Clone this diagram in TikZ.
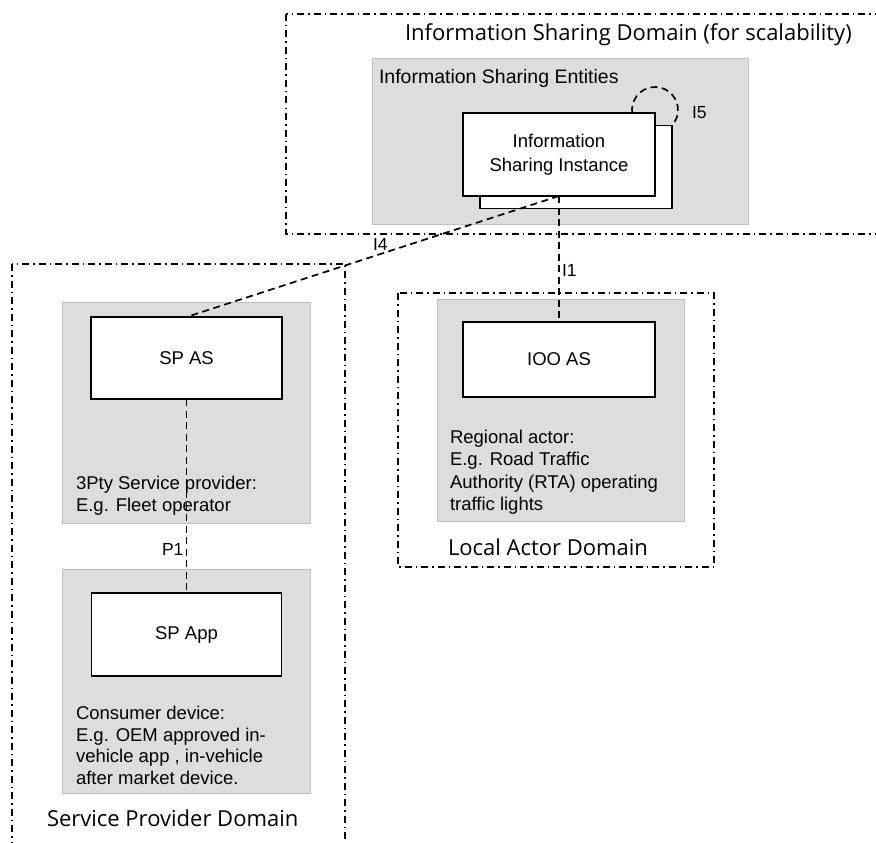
\documentclass[tikz,border=0pt]{standalone}
\usepackage{fontspec}
\setmainfont{Liberation Sans}
\newfontfamily\domainfont{Open Sans}
\definecolor{zonefill}{RGB}{221,221,221}
\definecolor{zoneedge}{RGB}{192,192,192}
\begin{document}
\begin{tikzpicture}[x=1pt,y=-1pt,
  every node/.style={inner sep=0pt, outer sep=0pt},
  domainframe/.style={line width=1.6pt, dash pattern=on 7pt off 4pt on 1.5pt off 4pt},
  zone/.style={fill=zonefill, draw=zoneedge, line width=0.8pt},
  entity/.style={draw=black, fill=white, line width=1.9pt, align=center,
    font=\fontsize{18.5}{24}\selectfont},
  link/.style={line width=1.7pt, dash pattern=on 7pt off 4.5pt},
  domlabel/.style={font=\domainfont\fontsize{22}{26}\selectfont},
  note/.style={align=left, anchor=north west, font=\fontsize{18.5}{22.3}\selectfont},
  iflabel/.style={anchor=base west, font=\fontsize{17.5}{20}\selectfont}
]
\useasboundingbox (0,0) rectangle (876,843);
\clip (0,0) rectangle (876,843);
\fill[white] (0,0) rectangle (876,843);

% domain frames
\draw[domainframe] (286,14) rectangle (900,234);
\draw[domainframe] (12,264) rectangle (345,880);
\draw[domainframe] (398,293) rectangle (714,567);

% shaded entity zones
\draw[zone] (372,58) rectangle (748,224);
\draw[zone] (62,302) rectangle (310,523);
\draw[zone] (62,569) rectangle (310,793);
\draw[zone] (437,299) rectangle (684,521);

% domain and zone titles
\node[domlabel, anchor=base west] (isdtitle) at (405,41) {Information Sharing Domain (for scalability)};
\node[anchor=base west, font=\fontsize{19.5}{22}\selectfont] (iseTitle) at (379,84) {Information Sharing Entities};
\node[domlabel, anchor=base west] (spdTitle) at (47,826) {Service Provider Domain};
\node[domlabel, anchor=base west] (ladTitle) at (448,555) {Local Actor Domain};

% self loop of the sharing instances (I5), partly hidden by the stacked boxes
\coordinate (loopstart) at (632.2,113);
\draw[link] (loopstart) arc[start angle=172.5, end angle=405, radius=23];

% stacked information sharing instances
\node[entity, minimum width=192pt, minimum height=83pt] (instback) at (576,167) {};
\node[entity, minimum width=192pt, minimum height=83pt] (inst) at (559,154.5)
  {Information\\Sharing Instance};

% application servers and app
\node[entity, minimum width=191pt, minimum height=82pt] (spas) at (186.5,358) {SP AS};
\node[entity, minimum width=190pt, minimum height=83pt] (spapp) at (186.5,634.5) {SP App};
\node[entity, minimum width=192pt, minimum height=75pt] (iooas) at (559,359.5) {IOO AS};

% descriptions
\node[note] (spnote) at (76,476) {3Pty Service provider:\\E.g. Fleet operator};
\node[note, font=\fontsize{18.5}{21.7}\selectfont] (appnote) at (76,706)
  {Consumer device:\\E.g. OEM approved in-\\vehicle app , in-vehicle\\after market device.};
\node[note] (iconote) at (450,430) {Regional actor:\\E.g. Road Traffic\\Authority (RTA) operating\\traffic lights};

% reference points
\draw[link] (inst.south) -- (spas.north);
\draw[link] (inst.south) -- (iooas.north);
\draw[link] (spas.south) -- (spapp.north);

\node[iflabel] (lblI5) at (692,118) {I5};
\node[iflabel] (lblI4) at (373,250) {I4};
\node[iflabel] (lblI1) at (562,276) {I1};
\node[iflabel] (lblP1) at (162,555) {P1};
\end{tikzpicture}
\end{document}
